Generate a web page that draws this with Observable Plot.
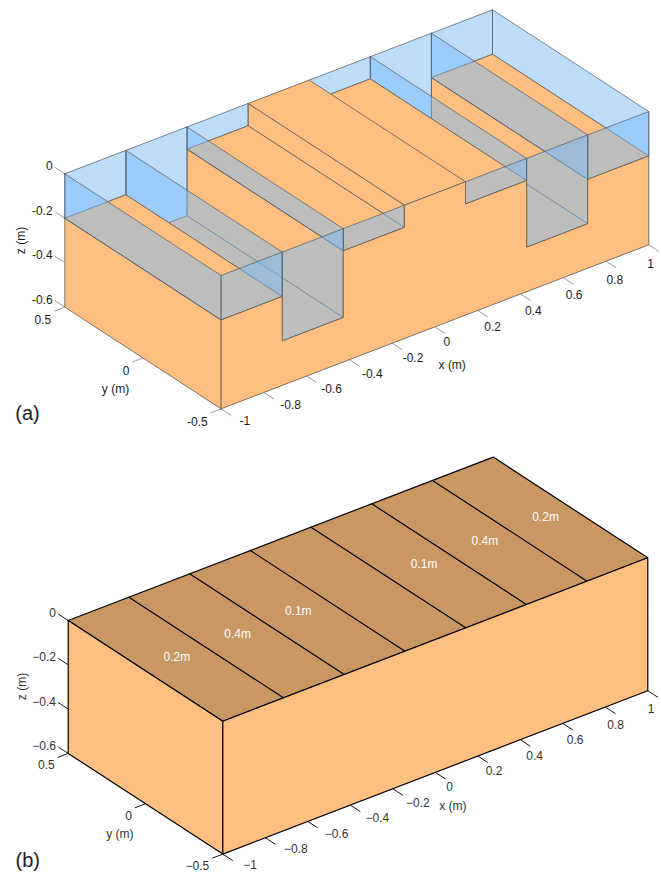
<!DOCTYPE html>
<html>
<head>
<meta charset="utf-8">
<script src="https://cdn.jsdelivr.net/npm/d3@7"></script>
<script src="https://cdn.jsdelivr.net/npm/@observablehq/plot@0.6"></script>
<style>
html,body{margin:0;padding:0;background:#fff;}
svg{display:block;}
</style>
</head>
<body>
<div id="chart"></div>
<script>
// ---- data (metres) ----
const stripEdges = [-1, -5/7, -3/7, -1/7, 1/7, 3/7, 5/7, 1];
const stripDepths = [0.2, 0.4, 0.1, 0, 0.1, 0.4, 0.2];
const yFront = -0.5, yBack = 0.5, zBase = -0.6;
const xTicks = [-1, -0.8, -0.6, -0.4, -0.2, 0, 0.2, 0.4, 0.6, 0.8, 1];
const yTicks = [0.5, 0, -0.5];
const zTicks = [0, -0.2, -0.4, -0.6];

// ---- view: axonometric camera of each panel ----
const viewA = {o:[220.6,275], ex:[213.85,-82], ey:[-156.3,-101.7], ez:[0,-222.2], top:0};
const viewB = {o:[222.3,720.7], ex:[212.5,-81.7], ey:[-154.6,-100.7], ez:[0,-221.5], top:437};
const projector = v => ([x,y,z]) => {
  const a = x + 1, b = y + 0.5;
  return [v.o[0] + a*v.ex[0] + b*v.ey[0] + z*v.ez[0],
          v.o[1] + a*v.ex[1] + b*v.ey[1] + z*v.ez[1]];
};

const SOIL = "#FFBF80", WATER = "#7BBBF7", TOPSOIL = "#C99764";

function panel(v, opts) {
  const P = projector(v);
  const face = (pts, style) => Plot.line([...pts, pts[0]], {
    x: d => P(d)[0], y: d => P(d)[1], curve: "linear", strokeLinejoin: "miter", ...style
  });
  const ticks = (vals, from, to, stroke) => Plot.link(vals, {
    x1: d => P(from(d))[0], y1: d => P(from(d))[1],
    x2: d => P(to(d))[0],   y2: d => P(to(d))[1],
    stroke, strokeWidth: opts.tickWidth
  });
  const labelOpts = {fontSize: opts.fontSize, fill: opts.textFill};
  const fmt = d => opts.minus ? String(d).replace("-", "\u2212") : String(d);
  const marks = [];

  marks.push(ticks(xTicks, d=>[d,yFront,zBase], d=>[d,yFront-0.065,zBase], opts.tick));
  marks.push(ticks(yTicks, d=>[-1,d,zBase], d=>[-1.05,d,zBase], opts.tick));
  marks.push(ticks(zTicks, d=>[-1,yBack,d], d=>[-1,yBack+0.065,d], opts.tick));

  marks.push(...opts.faces(face));

  marks.push(Plot.text(xTicks, {
    text: fmt, textAnchor: "start", lineAnchor: "middle",
    x: d => P([d,yFront,zBase])[0] + opts.xdx(d),
    y: d => P([d,yFront,zBase])[1] + opts.xdy(d),
    ...labelOpts
  }));
  marks.push(Plot.text(yTicks, {
    text: fmt, textAnchor: "end", lineAnchor: "middle",
    x: d => P([-1,d,zBase])[0] - 13.5,
    y: d => P([-1,d,zBase])[1] + opts.ydy,
    ...labelOpts
  }));
  marks.push(Plot.text(zTicks, {
    text: fmt, textAnchor: "end", lineAnchor: "middle",
    x: d => P([-1,yBack,d])[0] - 12.2,
    y: d => P([-1,yBack,d])[1] - 7.2,
    ...labelOpts
  }));
  for (const t of opts.titles) {
    marks.push(Plot.text([t.text], {
      text: d => d, x: () => t.x, y: () => t.y, rotate: t.rotate || 0,
      textAnchor: "middle", lineAnchor: "middle",
      fontSize: t.size || opts.fontSize, fill: t.fill || opts.textFill
    }));
  }
  if (opts.extra) marks.push(...opts.extra(P));

  return Plot.plot({
    width: 661, height: 437,
    marginTop: 0, marginRight: 0, marginBottom: 0, marginLeft: 0,
    x: {domain: [0, 661], range: [0, 661], axis: null},
    y: {domain: [v.top, v.top + 437], range: [0, 437], axis: null},
    style: {fontFamily: "'Liberation Sans', Arial, sans-serif", background: "transparent", overflow: "visible"},
    marks
  });
}

// ---- panel (a): strips with transparent water over the soil ----
function facesA(face) {
  const soil = {fill: SOIL, stroke: "#6d645a", strokeWidth: 0.9};
  const water = {fill: WATER, fillOpacity: 0.5, stroke: "#4f5a66", strokeOpacity: 0.8, strokeWidth: 0.9};
  const out = [];
  const n = stripDepths.length;
  for (let i = n - 1; i >= 0; i--) {
    const d = stripDepths[i], xl = stripEdges[i], xr = stripEdges[i+1];
    const dl = i > 0 ? stripDepths[i-1] : -zBase;
    if (d > 0) out.push(face([[xl,yBack,0],[xr,yBack,0],[xr,yBack,-d],[xl,yBack,-d]], water));
    if (i === n - 1) out.push(face([[xr,yBack,0],[xr,yFront,0],[xr,yFront,-d],[xr,yBack,-d]], water));
    out.push(face([[xl,yBack,-d],[xr,yBack,-d],[xr,yFront,-d],[xl,yFront,-d]], soil));
    if (dl > d) out.push(face([[xl,yBack,-d],[xl,yFront,-d],[xl,yFront,-dl],[xl,yBack,-dl]], soil));
    const wl = Math.min(d, dl);
    if (wl > 0) out.push(face([[xl,yBack,0],[xl,yFront,0],[xl,yFront,-wl],[xl,yBack,-wl]], water));
    if (d > 0) out.push(face([[xl,yFront,0],[xr,yFront,0],[xr,yFront,-d],[xl,yFront,-d]], water));
  }
  const profile = [[-1,yFront,zBase]];
  stripDepths.forEach((d,i) => { profile.push([stripEdges[i],yFront,-d],[stripEdges[i+1],yFront,-d]); });
  profile.push([1,yFront,zBase]);
  out.push(face(profile, soil));
  return out;
}

// ---- panel (b): solid block with labelled strips ----
function facesB(face) {
  const edge = {stroke: "#000", strokeWidth: 1.2};
  const out = [
    face([[-1,yBack,0],[1,yBack,0],[1,yFront,0],[-1,yFront,0]], {fill: TOPSOIL, ...edge}),
    face([[-1,yBack,0],[-1,yFront,0],[-1,yFront,zBase],[-1,yBack,zBase]], {fill: SOIL, ...edge}),
    face([[-1,yFront,0],[1,yFront,0],[1,yFront,zBase],[-1,yFront,zBase]], {fill: SOIL, ...edge})
  ];
  stripEdges.slice(1,-1).forEach(x => {
    out.push(face([[x,yBack,0],[x,yFront,0]], {fill: "none", ...edge}));
  });
  return out;
}
const stripLabels = stripDepths.map((d,i) => ({
  text: d + "m", mid: (stripEdges[i] + stripEdges[i+1]) / 2, depth: d
})).filter(d => d.depth > 0);

const a = panel(viewA, {
  tick: "#9a9a9a", tickWidth: 1, fontSize: 12, textFill: "#1c1c1c", minus: false, ydy: 13,
  xdx: d => 8.5 - 10*d, xdy: d => 15.7 + 3.5*d,
  faces: facesA,
  titles: [
    {text: "x (m)", x: 451.7, y: 365},
    {text: "y (m)", x: 115, y: 388.5},
    {text: "z (m)", x: 20.7, y: 240, rotate: -90},
    {text: "(a)", x: 27, y: 413, size: 20, fill: "#222"}
  ]
});

const b = panel(viewB, {
  tick: "#111", tickWidth: 1, fontSize: 12, textFill: "#333", minus: true, ydy: 12,
  xdx: d => d < 0 ? 11.5 - 9*d : 10 - 10*d + (d === 0 ? 1 : 0), xdy: d => 14.7 + 3.8*d,
  faces: facesB,
  titles: [
    {text: "x (m)", x: 452.3, y: 805.7},
    {text: "y (m)", x: 119.3, y: 833.3},
    {text: "z (m)", x: 21.7, y: 686, rotate: -90},
    {text: "(b)", x: 27.3, y: 860, size: 20, fill: "#222"}
  ],
  extra: P => [Plot.text(stripLabels, {
    text: "text", x: d => P([d.mid,0,0])[0] + (d.mid > 0 ? 5.4 : 1), y: d => P([d.mid,0,0])[1] - 1.7,
    textAnchor: "middle", lineAnchor: "middle", fontSize: 12, fill: "#fff"
  })]
});

document.getElementById("chart").append(a, b);
</script>
</body>
</html>
